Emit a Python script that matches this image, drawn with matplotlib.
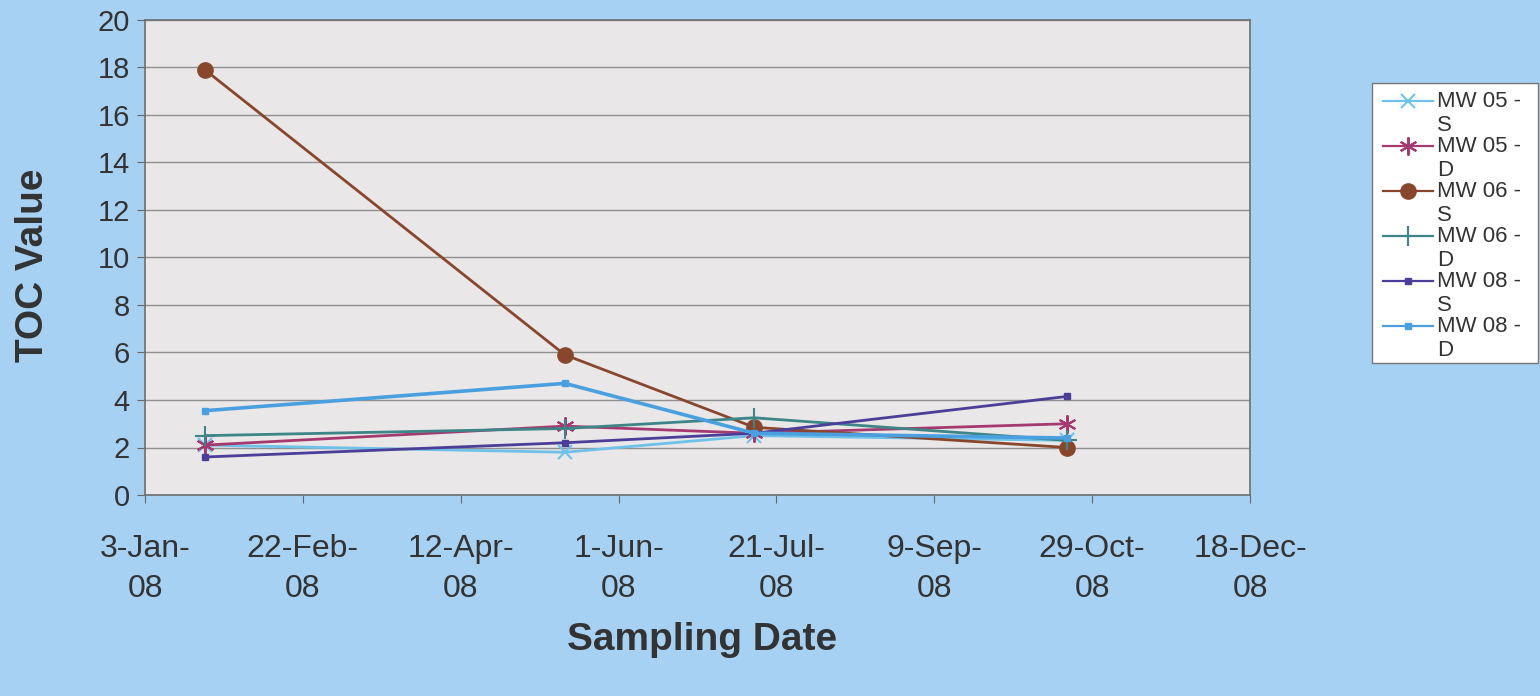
import datetime as dt
import matplotlib
matplotlib.use("Agg")
import matplotlib.pyplot as plt
from matplotlib.lines import Line2D
from matplotlib.patches import Rectangle

plt.rcParams['font.family'] = ['Liberation Sans', 'DejaVu Sans']

sample_dates = [dt.date(2008, 1, 22), dt.date(2008, 5, 15),
                dt.date(2008, 7, 14), dt.date(2008, 10, 21)]

mw05_s = [2.1, 1.8, 2.5, 2.3]
mw05_d = [2.1, 2.9, 2.6, 3.0]
mw06_s = [17.9, 5.9, 2.85, 2.0]
mw06_d = [2.5, 2.8, 3.25, 2.3]
mw08_s = [1.6, 2.2, 2.6, 4.15]
mw08_d = [3.55, 4.7, 2.6, 2.4]

series_labels = ["MW 05 -\nS", "MW 05 -\nD", "MW 06 -\nS",
                 "MW 06 -\nD", "MW 08 -\nS", "MW 08 -\nD"]

start = dt.date(2008, 1, 3)
tick_dates = [start + dt.timedelta(days=50 * i) for i in range(8)]

W, H = 1540, 696
fig = plt.figure(figsize=(W / 100, H / 100), dpi=100)
fig.patch.set_facecolor('#a7d1f3')
ax = fig.add_axes([145 / W, 1 - 495 / H, 1105 / W, 475 / H])
ax.set_facecolor('#e9e7e8')

styles = [
    dict(color='#6fc1e9', marker='x', ms=10, mew=1.5, lw=2.0),
    dict(color='#a53a70', marker=(6, 2, 0), ms=13, mew=1.5, lw=2.0),
    dict(color='#88472d', marker='o', ms=11, lw=2.0),
    dict(color='#3d8587', marker='+', ms=14, mew=1.5, lw=2.0),
    dict(color='#4b3e98', marker='s', ms=4, lw=2.0),
    dict(color='#4aa0df', marker='s', ms=5, lw=2.6),
]
all_series = [mw05_s, mw05_d, mw06_s, mw06_d, mw08_s, mw08_d]
for vals, lab, st in zip(all_series, series_labels, styles):
    ax.plot(sample_dates, vals, label=lab, **st)

ax.set_ylim(0, 20)
ax.set_yticks(range(0, 21, 2))
ax.set_xlim(start, tick_dates[-1])
ax.set_xticks(tick_dates)
ax.set_xticklabels([d.strftime('%-d-%b-\n%y') for d in tick_dates],
                   linespacing=1.45)
ax.tick_params(axis='y', labelsize=21, length=6, color='#666666', pad=5,
               labelcolor='#333333')
ax.tick_params(axis='x', labelsize=23, length=6, color='#666666', pad=22,
               labelcolor='#333333')
ax.grid(axis='y', color='#8f8f8f', lw=1)
ax.set_axisbelow(True)
for s in ax.spines.values():
    s.set_color('#6e6e6e')
    s.set_linewidth(1.2)

fig.text(33 / W, 1 - 265 / H, 'TOC Value', rotation=90, fontsize=28,
         fontweight='bold', color='#333333', ha='center', va='center')
fig.text(702 / W, 1 - 640 / H, 'Sampling Date', fontsize=28,
         fontweight='bold', color='#333333', ha='center', va='center')

# hand-placed legend box on the right
fig.add_artist(Rectangle((1372 / W, 1 - 363 / H), 166 / W, 280 / H,
                         transform=fig.transFigure, facecolor='white',
                         edgecolor='#777777', lw=1))
for i, (lab, st) in enumerate(zip(series_labels, styles)):
    y = 1 - (101 + 45 * i) / H
    fig.add_artist(Line2D([1383 / W, 1433 / W], [y, y],
                          transform=fig.transFigure, color=st['color'],
                          lw=1.6))
    mk = {k: v for k, v in st.items() if k in ('marker', 'ms', 'mew')}
    fig.add_artist(Line2D([1408 / W], [y], transform=fig.transFigure,
                          color=st['color'], ls='none', **mk))
    fig.text(1437 / W, y + 10 / H, lab, fontsize=16, color='#333333',
             ha='left', va='top', linespacing=1.2)

fig.savefig('out.png', dpi=100, facecolor=fig.get_facecolor())
